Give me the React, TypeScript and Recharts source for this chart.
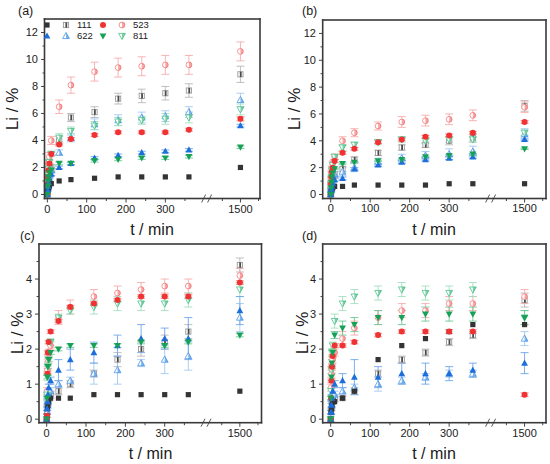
import React from 'react';
import { ScatterChart, Scatter, XAxis, YAxis, ErrorBar, ReferenceDot } from 'recharts';

const FONT = '"Liberation Sans", Arial, Helvetica, sans-serif';

// sampling times (min)
const T_MIN = [0, 1, 2, 3, 5, 10, 30, 60, 120, 180, 240, 300, 360, 1500];

// x tick values (real minutes)
const X_MAJOR = [0, 100, 200, 300, 1500];
const X_MINOR = [50, 150, 250, 350, 1450, 1550];
const X_BREAK = 405;

// y ticks
const AB_Y_MAJOR = [0, 2, 4, 6, 8, 10, 12];
const AB_Y_MINOR = [1, 3, 5, 7, 9, 11];
const CD_Y_MAJOR = [0, 1, 2, 3, 4];
const CD_Y_MINOR = [0.5, 1.5, 2.5, 3.5, 4.5];

// legend labels
const LEGEND_LABELS = ['111', '523', '622', '811'];
const PANEL_LABELS = ['(a)', '(b)', '(c)', '(d)'];

// ---- panel (a) ----
const A_111F = [0, 0.2, 0.4, 0.5, 0.6, 0.8, 1.0, 1.1, 1.2, 1.3, 1.3, 1.3, 1.3, 2.0];
const A_111O = [0, 0.5, 0.9, 1.2, 1.5, 2.0, 4.0, 5.7, 6.1, 7.1, 7.3, 7.5, 7.7, 8.9];
const A_523F = [0, 0.8, 1.3, 1.8, 2.3, 3.0, 3.7, 4.1, 4.4, 4.6, 4.6, 4.6, 4.8, 5.6];
const A_523O = [0, 1.2, 1.7, 2.3, 2.8, 4.0, 6.5, 8.1, 9.1, 9.4, 9.5, 9.6, 9.6, 10.6];
const A_622F = [0, 0.3, 0.6, 0.9, 1.2, 1.5, 2.0, 2.3, 2.7, 2.9, 3.1, 3.2, 3.3, 5.1];
const A_622O = [0, 0.5, 0.8, 1.1, 1.5, 1.8, 3.1, 4.2, 5.2, 5.5, 5.7, 5.8, 6.1, 7.0];
const A_811F = [0, 0.6, 1.0, 1.3, 1.6, 1.8, 2.3, 2.3, 2.5, 2.6, 2.7, 2.7, 2.8, 3.5];
const A_811O = [0, 0.8, 1.4, 1.9, 2.4, 3.0, 4.2, 4.7, 5.1, 5.4, 5.5, 5.6, 5.7, 6.3];
const A_111F_E = [0, 0, 0, 0, 0, 0, 0, 0, 0, 0, 0, 0, 0, 0];
const A_111O_E = [0, 0.1, 0.1, 0.2, 0.2, 0.2, 0.3, 0.3, 0.4, 0.4, 0.5, 0.5, 0.5, 0.6];
const A_523F_E = [0, 0.05, 0.05, 0.05, 0.05, 0.1, 0.1, 0.1, 0.1, 0.1, 0.1, 0.1, 0.1, 0.15];
const A_523O_E = [0, 0.1, 0.2, 0.2, 0.3, 0.3, 0.5, 0.6, 0.7, 0.7, 0.7, 0.7, 0.7, 0.7];
const A_622F_E = [0, 0.05, 0.05, 0.05, 0.05, 0.1, 0.1, 0.1, 0.1, 0.1, 0.1, 0.1, 0.1, 0.1];
const A_622O_E = [0, 0.1, 0.1, 0.1, 0.2, 0.2, 0.2, 0.3, 0.4, 0.4, 0.4, 0.4, 0.4, 0.5];
const A_811F_E = [0, 0.05, 0.05, 0.05, 0.05, 0.1, 0.1, 0.1, 0.1, 0.1, 0.1, 0.1, 0.1, 0.1];
const A_811O_E = [0, 0.1, 0.1, 0.1, 0.2, 0.2, 0.3, 0.3, 0.3, 0.3, 0.3, 0.4, 0.4, 0.4];

// ---- panel (b) ----
const B_111F = [0, 0.2, 0.3, 0.4, 0.5, 0.6, 0.6, 0.7, 0.7, 0.7, 0.7, 0.8, 0.8, 0.8];
const B_111O = [0, 0.4, 0.7, 0.9, 1.1, 1.5, 1.9, 2.6, 3.1, 3.5, 3.7, 4.0, 4.2, 6.6];
const B_523F = [0, 0.8, 1.3, 1.7, 2.0, 2.5, 3.1, 3.4, 3.9, 4.1, 4.3, 4.4, 4.6, 5.4];
const B_523O = [0, 1.0, 1.5, 1.9, 2.3, 2.8, 4.0, 4.6, 5.1, 5.4, 5.5, 5.6, 5.9, 6.5];
const B_622F = [0, 0.2, 0.4, 0.6, 0.8, 1.1, 1.2, 1.9, 2.2, 2.4, 2.6, 2.7, 2.8, 4.1];
const B_622O = [0, 0.3, 0.6, 0.8, 1.1, 1.5, 1.7, 2.0, 2.4, 2.7, 2.9, 3.0, 3.2, 4.5];
const B_811F = [0, 0.5, 0.9, 1.3, 1.6, 1.9, 2.3, 2.4, 2.5, 2.6, 2.8, 2.9, 3.0, 3.4];
const B_811O = [0, 0.8, 1.3, 1.8, 2.2, 2.8, 3.5, 3.7, 3.9, 4.1, 4.0, 4.1, 4.1, 4.6];
const B_111F_E = [0, 0, 0, 0, 0, 0, 0, 0, 0, 0, 0, 0, 0, 0];
const B_111O_E = [0, 0.1, 0.1, 0.1, 0.1, 0.2, 0.2, 0.2, 0.2, 0.2, 0.2, 0.3, 0.3, 0.4];
const B_523F_E = [0, 0.05, 0.05, 0.05, 0.05, 0.1, 0.1, 0.1, 0.1, 0.1, 0.1, 0.1, 0.1, 0.1];
const B_523O_E = [0, 0.1, 0.2, 0.2, 0.2, 0.2, 0.3, 0.3, 0.3, 0.4, 0.4, 0.4, 0.4, 0.4];
const B_622F_E = [0, 0.05, 0.05, 0.05, 0.05, 0.1, 0.1, 0.1, 0.1, 0.1, 0.1, 0.1, 0.1, 0.1];
const B_622O_E = [0, 0.1, 0.1, 0.1, 0.2, 0.2, 0.3, 0.3, 0.3, 0.3, 0.3, 0.4, 0.4, 0.4];
const B_811F_E = [0, 0.05, 0.05, 0.05, 0.05, 0.05, 0.05, 0.05, 0.05, 0.05, 0.05, 0.05, 0.05, 0.05];
const B_811O_E = [0, 0.1, 0.1, 0.1, 0.2, 0.2, 0.2, 0.2, 0.2, 0.2, 0.2, 0.2, 0.2, 0.2];

// ---- panel (c) ----
const C_111F = [0, 0.1, 0.3, 0.4, 0.5, 0.6, 0.6, 0.6, 0.7, 0.7, 0.7, 0.7, 0.7, 0.8];
const C_111O = [0, 0.2, 0.4, 0.5, 0.6, 0.7, 0.8, 1.0, 1.3, 1.7, 2.0, 2.2, 2.5, 4.4];
const C_523F = [0, 0.1, 1.3, 1.9, 2.2, 2.5, 2.8, 3.2, 3.3, 3.4, 3.5, 3.5, 3.5, 3.9];
const C_523O = [0, 0.8, 1.4, 1.7, 1.9, 2.1, 2.9, 3.2, 3.5, 3.6, 3.7, 3.8, 3.8, 4.1];
const C_622F = [0, 0.3, 0.5, 0.7, 0.9, 1.1, 1.4, 1.7, 1.9, 2.1, 2.3, 2.3, 2.3, 3.1];
const C_622O = [0, 0.2, 0.4, 0.5, 0.7, 0.8, 1.0, 1.1, 1.3, 1.4, 1.6, 1.7, 1.8, 2.9];
const C_811F = [0, 0.6, 1.2, 1.5, 1.7, 1.9, 2.0, 2.1, 2.1, 2.1, 2.2, 2.1, 2.2, 2.4];
const C_811O = [0, 0.7, 1.2, 1.5, 1.7, 2.2, 2.9, 3.1, 3.2, 3.3, 3.3, 3.3, 3.4, 3.7];
const C_111F_E = [0, 0, 0, 0, 0, 0, 0, 0, 0, 0, 0, 0, 0, 0];
const C_111O_E = [0, 0.05, 0.05, 0.05, 0.1, 0.1, 0.1, 0.1, 0.1, 0.2, 0.2, 0.2, 0.2, 0.2];
const C_523F_E = [0, 0.05, 0.05, 0.05, 0.05, 0.05, 0.05, 0.05, 0.05, 0.05, 0.05, 0.05, 0.05, 0.05];
const C_523O_E = [0, 0.1, 0.1, 0.1, 0.1, 0.1, 0.2, 0.2, 0.2, 0.2, 0.2, 0.2, 0.2, 0.2];
const C_622F_E = [0, 0.05, 0.1, 0.1, 0.1, 0.1, 0.3, 0.3, 0.3, 0.3, 0.4, 0.3, 0.6, 0.4];
const C_622O_E = [0, 0.05, 0.1, 0.1, 0.1, 0.1, 0.1, 0.1, 0.3, 0.4, 0.1, 0.4, 0.4, 0.4];
const C_811F_E = [0, 0.05, 0.05, 0.05, 0.05, 0.05, 0.05, 0.05, 0.05, 0.05, 0.05, 0.05, 0.05, 0.05];
const C_811O_E = [0, 0.05, 0.1, 0.1, 0.1, 0.1, 0.1, 0.1, 0.2, 0.2, 0.2, 0.2, 0.2, 0.2];

// ---- panel (d) ----
const D_111F = [0, 0.2, 0.3, 0.4, 0.5, 0.5, 0.6, 0.8, 1.7, 2.1, 2.3, 2.5, 2.7, 2.7];
const D_111O = [0, 0.2, 0.3, 0.4, 0.5, 0.6, 0.6, 0.8, 1.3, 1.7, 1.9, 2.2, 2.4, 3.4];
const D_523F = [0, 0.6, 1.1, 1.5, 1.8, 2.1, 2.1, 2.2, 2.4, 2.5, 2.5, 2.5, 2.5, 0.7];
const D_523O = [0, 0.9, 1.3, 1.5, 1.7, 1.9, 2.3, 2.6, 2.9, 3.1, 3.1, 3.3, 3.3, 3.5];
const D_622F = [0, 0.2, 0.4, 0.6, 0.8, 1.0, 1.1, 1.2, 1.2, 1.3, 1.3, 1.3, 1.4, 1.6];
const D_622O = [0, 0.2, 0.4, 0.5, 0.6, 0.7, 0.8, 0.9, 1.0, 1.1, 1.2, 1.3, 1.3, 2.3];
const D_811F = [0, 0.6, 1.2, 1.6, 1.9, 2.4, 2.6, 2.7, 2.9, 2.9, 3.0, 3.0, 3.0, 2.9];
const D_811O = [0, 0.8, 1.4, 1.9, 2.1, 2.8, 3.3, 3.5, 3.6, 3.7, 3.6, 3.6, 3.7, 2.9];
const D_111F_E = [0, 0, 0, 0, 0, 0, 0, 0, 0, 0, 0, 0, 0, 0];
const D_111O_E = [0, 0.05, 0.05, 0.05, 0.05, 0.1, 0.05, 0.1, 0.1, 0.1, 0.1, 0.1, 0.1, 0.2];
const D_523F_E = [0, 0.05, 0.05, 0.05, 0.05, 0.05, 0.05, 0.05, 0.05, 0.05, 0.05, 0.05, 0.05, 0.05];
const D_523O_E = [0, 0.1, 0.1, 0.1, 0.1, 0.1, 0.2, 0.2, 0.2, 0.2, 0.2, 0.2, 0.2, 0.2];
const D_622F_E = [0, 0.05, 0.1, 0.1, 0.1, 0.1, 0.2, 0.5, 0.3, 0.3, 0.3, 0.2, 0.2, 0.3];
const D_622O_E = [0, 0.05, 0.05, 0.05, 0.1, 0.1, 0.1, 0.1, 0.2, 0.1, 0.1, 0.1, 0.1, 0.2];
const D_811F_E = [0, 0.05, 0.1, 0.1, 0.1, 0.1, 0.2, 0.2, 0.2, 0.2, 0.2, 0.2, 0.2, 0.2];
const D_811O_E = [0, 0.1, 0.1, 0.1, 0.1, 0.2, 0.2, 0.2, 0.2, 0.2, 0.2, 0.2, 0.2, 0.2];

// ---- styles ----
type Kind = 'sq' | 'ci' | 'tu' | 'td';
const STYLE: Record<string, { kind: Kind; open: boolean; color: string; half: string; err: string }> = {
  '111F': { kind: 'sq', open: false, color: '#343434', half: '#343434', err: '#8a8a8a' },
  '111O': { kind: 'sq', open: true, color: '#9a9a9a', half: '#4a4a4a', err: '#b8b8b8' },
  '523F': { kind: 'ci', open: false, color: '#f03232', half: '#f03232', err: '#f28080' },
  '523O': { kind: 'ci', open: true, color: '#f48a8a', half: '#f25a5a', err: '#f7abab' },
  '622F': { kind: 'tu', open: false, color: '#1c6fdb', half: '#1c6fdb', err: '#6fa6ea' },
  '622O': { kind: 'tu', open: true, color: '#5ea2ea', half: '#2d82e2', err: '#a3c8f2' },
  '811F': { kind: 'td', open: false, color: '#17a157', half: '#17a157', err: '#6cc796' },
  '811O': { kind: 'td', open: true, color: '#5fc896', half: '#2db36e', err: '#a3dfc0' },
};

const ORDER = ['111O', '523O', '622O', '811O', '111F', '523F', '622F', '811F'];

// panel layout (plot-area edges in page pixels)
const GEOM = [
  { l: 44.5, r: 260, t: 19, b: 198.5 },
  { l: 322.7, r: 546, t: 20, b: 198.5 },
  { l: 39, r: 261.5, t: 244, b: 422.7 },
  { l: 322.7, r: 546, t: 244, b: 422.7 },
];
const FRAME_COLOR = '#3a3a3a';
const FRAME_W = 1.6;

const toAxis = (t: number) => (t > 400 ? 491 + (t - 1500) * 0.92 : t);

function Mk({ cx, cy, st }: { cx: number; cy: number; st: any }) {
  if (cx == null || cy == null || isNaN(cx) || isNaN(cy)) return null;
  const { kind, open, color, half } = st;
  if (!open) {
    if (kind === 'sq') return <rect x={cx - 2.6} y={cy - 2.6} width={5.2} height={5.2} fill={color} />;
    if (kind === 'ci') return <circle cx={cx} cy={cy} r={3} fill={color} />;
    if (kind === 'tu')
      return <polygon points={`${cx},${cy - 3.6} ${cx + 3.4},${cy + 2.6} ${cx - 3.4},${cy + 2.6}`} fill={color} />;
    return <polygon points={`${cx},${cy + 3.6} ${cx + 3.4},${cy - 2.6} ${cx - 3.4},${cy - 2.6}`} fill={color} />;
  }
  if (kind === 'sq')
    return (
      <g>
        <rect x={cx - 2.6} y={cy - 2.6} width={5.2} height={5.2} fill="#fff" stroke={color} strokeWidth={0.9} />
        <rect x={cx - 0.6} y={cy - 2.6} width={1.8} height={5.2} fill={half} />
      </g>
    );
  if (kind === 'ci')
    return (
      <g>
        <circle cx={cx} cy={cy} r={2.9} fill="#fff" stroke={color} strokeWidth={0.9} />
        <path d={`M${cx},${cy - 2.9} A2.9,2.9 0 0 1 ${cx},${cy + 2.9} Z`} fill={half} fillOpacity={0.55} />
      </g>
    );
  if (kind === 'tu')
    return (
      <g>
        <polygon points={`${cx},${cy - 3.6} ${cx + 3.4},${cy + 2.6} ${cx - 3.4},${cy + 2.6}`} fill="#fff" stroke={color} strokeWidth={0.9} />
        <polygon points={`${cx},${cy - 3.6} ${cx + 3.4},${cy + 2.6} ${cx},${cy + 2.6}`} fill={half} fillOpacity={0.6} />
      </g>
    );
  return (
    <g>
      <polygon points={`${cx},${cy + 3.6} ${cx + 3.4},${cy - 2.6} ${cx - 3.4},${cy - 2.6}`} fill="#fff" stroke={color} strokeWidth={0.9} />
      <polygon points={`${cx},${cy + 3.6} ${cx + 3.4},${cy - 2.6} ${cx},${cy - 2.6}`} fill={half} fillOpacity={0.6} />
    </g>
  );
}

function XTick(props: any) {
  const { x, y, payload } = props;
  const v = payload.value;
  const major = X_MAJOR.find((m) => Math.abs(toAxis(m) - v) < 1e-6);
  const isMajor = major !== undefined;
  return (
    <g>
      <rect x={x - 0.5} y={y} width={1} height={isMajor ? 4 : 2.5} fill="#444" />
      {isMajor && (
        <text x={x} y={y + 14} textAnchor="middle" fontSize={11} fontFamily={FONT} fill="#222">
          {String(major)}
        </text>
      )}
    </g>
  );
}

function YTick(props: any) {
  const { x, y, payload, majors } = props;
  const v = payload.value;
  const isMajor = majors.some((m: number) => Math.abs(m - v) < 1e-6);
  const len = isMajor ? 4 : 2.5;
  return (
    <g>
      <rect x={x - len} y={y - 0.5} width={len} height={1} fill="#444" />
      {isMajor && (
        <text x={x - 7} y={y + 4} textAnchor="end" fontSize={11} fontFamily={FONT} fill="#222">
          {String(v)}
        </text>
      )}
    </g>
  );
}

function BreakMark({ cx, cy }: any) {
  if (cx == null || cy == null) return null;
  return (
    <g>
      <rect x={cx - 2.5} y={cy - 1.5} width={5} height={3} fill="#fff" />
      <line x1={cx - 5} y1={cy + 4} x2={cx - 1} y2={cy - 4} stroke="#444" strokeWidth={0.9} />
      <line x1={cx + 1} y1={cy + 4} x2={cx + 5} y2={cy - 4} stroke="#444" strokeWidth={0.9} />
    </g>
  );
}

type PanelProps = {
  g: { l: number; r: number; t: number; b: number };
  xDomain: [number, number]; yDomain: [number, number];
  yMajor: number[]; yMinor: number[];
  vals: Record<string, number[]>; errs: Record<string, number[]>;
};

function Panel({ g, xDomain, yDomain, yMajor, yMinor, vals, errs }: PanelProps) {
  const { l, r, t, b } = g;
  const ML = 45, MR = 5, MT = 20, XH = 45;
  const w = ML + (r - l) + MR;
  const h = MT + (b - t) + XH;
  const xTicks = [...X_MAJOR, ...X_MINOR].map(toAxis);
  const yTicks = [...yMajor, ...yMinor];
  return (
    <div style={{ position: 'absolute', left: l - ML, top: t - MT, width: w, height: h }}>
      <ScatterChart width={w} height={h} margin={{ top: MT, right: MR, bottom: 0, left: 0 }}>
        <XAxis
          type="number" dataKey="x" domain={xDomain} allowDataOverflow ticks={xTicks} interval={0}
          height={XH} tickSize={0} tickMargin={0} axisLine={false} tickLine={false} tick={<XTick />}
        />
        <YAxis
          type="number" dataKey="y" domain={yDomain} allowDataOverflow ticks={yTicks} interval={0}
          width={ML} tickSize={0} tickMargin={0} axisLine={false} tickLine={false} tick={<YTick majors={yMajor} />}
        />
        {ORDER.map((k) => {
          const st = STYLE[k];
          const data = T_MIN.map((tm, i) => ({ x: toAxis(tm), y: vals[k][i], e: errs[k][i] }));
          return (
            <Scatter
              key={k} data={data} isAnimationActive={false}
              shape={(p: any) => <Mk cx={p.cx} cy={p.cy} st={st} />}
            >
              <ErrorBar dataKey="e" direction="y" width={4} stroke={st.err} strokeWidth={0.9} />
            </Scatter>
          );
        })}
        <ReferenceDot
          x={X_BREAK} y={yDomain[0]} ifOverflow="visible" r={0}
          shape={(p: any) => <BreakMark cx={p.cx} cy={p.cy} />}
        />
      </ScatterChart>
    </div>
  );
}

const pack = (a: number[][]) => Object.fromEntries(ORDER.map((k, i) => [k, a[i]]));

export default function App() {
  const aVals = pack([A_111O, A_523O, A_622O, A_811O, A_111F, A_523F, A_622F, A_811F]);
  const aErrs = pack([A_111O_E, A_523O_E, A_622O_E, A_811O_E, A_111F_E, A_523F_E, A_622F_E, A_811F_E]);
  const bVals = pack([B_111O, B_523O, B_622O, B_811O, B_111F, B_523F, B_622F, B_811F]);
  const bErrs = pack([B_111O_E, B_523O_E, B_622O_E, B_811O_E, B_111F_E, B_523F_E, B_622F_E, B_811F_E]);
  const cVals = pack([C_111O, C_523O, C_622O, C_811O, C_111F, C_523F, C_622F, C_811F]);
  const cErrs = pack([C_111O_E, C_523O_E, C_622O_E, C_811O_E, C_111F_E, C_523F_E, C_622F_E, C_811F_E]);
  const dVals = pack([D_111O, D_523O, D_622O, D_811O, D_111F, D_523F, D_622F, D_811F]);
  const dErrs = pack([D_111O_E, D_523O_E, D_622O_E, D_811O_E, D_111F_E, D_523F_E, D_622F_E, D_811F_E]);

  const titleStyle = { fontFamily: FONT, fill: '#1a1a1a' } as any;
  const legendRows = [
    { y: 25, items: [['111F', '111O', LEGEND_LABELS[0]], ['523F', '523O', LEGEND_LABELS[1]]] },
    { y: 36, items: [['622F', '622O', LEGEND_LABELS[2]], ['811F', '811O', LEGEND_LABELS[3]]] },
  ];

  return (
    <div style={{ position: 'fixed', left: 0, top: 0, width: 550, height: 464, background: '#fff', overflow: 'hidden' }}>
      <Panel g={GEOM[0]} xDomain={[-6, 542]} yDomain={[-0.3, 13]}
        yMajor={AB_Y_MAJOR} yMinor={AB_Y_MINOR} vals={aVals} errs={aErrs} />
      <Panel g={GEOM[1]} xDomain={[-19.5, 546]} yDomain={[-0.3, 13]}
        yMajor={AB_Y_MAJOR} yMinor={AB_Y_MINOR} vals={bVals} errs={bErrs} />
      <Panel g={GEOM[2]} xDomain={[-19.5, 546]} yDomain={[-0.1, 5]}
        yMajor={CD_Y_MAJOR} yMinor={CD_Y_MINOR} vals={cVals} errs={cErrs} />
      <Panel g={GEOM[3]} xDomain={[-19.5, 546]} yDomain={[-0.1, 5]}
        yMajor={CD_Y_MAJOR} yMinor={CD_Y_MINOR} vals={dVals} errs={dErrs} />

      <svg width={550} height={464} style={{ position: 'absolute', left: 0, top: 0, pointerEvents: 'none' }}>
        {GEOM.map((g, i) => (
          <g key={i}>
            <rect x={g.l - FRAME_W / 2} y={g.t - FRAME_W / 2} width={g.r - g.l + FRAME_W} height={FRAME_W} fill={FRAME_COLOR} />
            <rect x={g.l - FRAME_W / 2} y={g.b - FRAME_W / 2} width={g.r - g.l + FRAME_W} height={FRAME_W} fill={FRAME_COLOR} />
            <rect x={g.l - FRAME_W / 2} y={g.t - FRAME_W / 2} width={FRAME_W} height={g.b - g.t + FRAME_W} fill={FRAME_COLOR} />
            <rect x={g.r - FRAME_W / 2} y={g.t - FRAME_W / 2} width={FRAME_W} height={g.b - g.t + FRAME_W} fill={FRAME_COLOR} />
          </g>
        ))}

        <text x={18} y={14.5} fontSize={12.5} {...titleStyle}>{PANEL_LABELS[0]}</text>
        <text x={302} y={14.5} fontSize={12.5} {...titleStyle}>{PANEL_LABELS[1]}</text>
        <text x={20} y={239.5} fontSize={12.5} {...titleStyle}>{PANEL_LABELS[2]}</text>
        <text x={302} y={239.5} fontSize={12.5} {...titleStyle}>{PANEL_LABELS[3]}</text>

        <text x={152} y={234.5} fontSize={16} textAnchor="middle" {...titleStyle}>t / min</text>
        <text x={434} y={234.5} fontSize={16} textAnchor="middle" {...titleStyle}>t / min</text>
        <text x={150.5} y={459} fontSize={16} textAnchor="middle" {...titleStyle}>t / min</text>
        <text x={434} y={459} fontSize={16} textAnchor="middle" {...titleStyle}>t / min</text>

        <text transform="translate(18,109) rotate(-90)" fontSize={17} textAnchor="middle" {...titleStyle}>Li / %</text>
        <text transform="translate(300,109) rotate(-90)" fontSize={17} textAnchor="middle" {...titleStyle}>Li / %</text>
        <text transform="translate(22.5,333) rotate(-90)" fontSize={17} textAnchor="middle" {...titleStyle}>Li / %</text>
        <text transform="translate(307.5,333) rotate(-90)" fontSize={17} textAnchor="middle" {...titleStyle}>Li / %</text>

        {legendRows.map((row, ri) => (
          <g key={ri}>
            {row.items.map((it, ii) => {
              const x0 = ii === 0 ? 47 : 103;
              return (
                <g key={ii}>
                  <Mk cx={x0} cy={row.y} st={STYLE[it[0]]} />
                  <Mk cx={x0 + 19} cy={row.y} st={STYLE[it[1]]} />
                  <text x={x0 + 30} y={row.y + 3.3} fontSize={9.5} {...titleStyle}>{it[2]}</text>
                </g>
              );
            })}
          </g>
        ))}
      </svg>
    </div>
  );
}
